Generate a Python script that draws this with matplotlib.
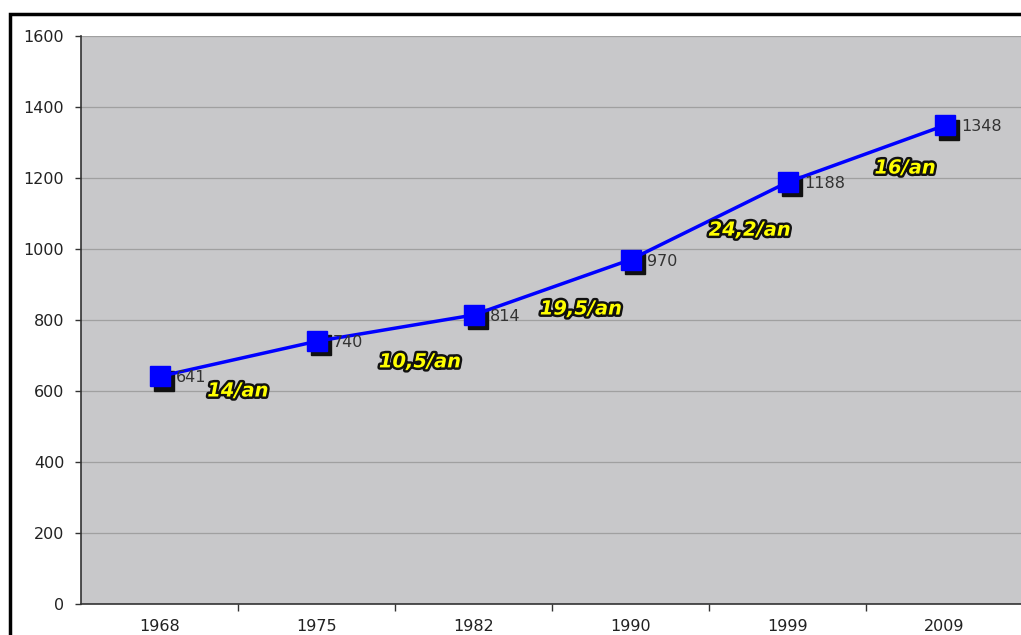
import matplotlib.pyplot as plt
import matplotlib.patheffects as pe
from matplotlib.lines import Line2D
from matplotlib.transforms import offset_copy

# data
years = ["1968", "1975", "1982", "1990", "1999", "2009"]
values = [641, 740, 814, 970, 1188, 1348]
rates = ["14/an", "10,5/an", "19,5/an", "24,2/an", "16/an"]
rate_x = [0.5, 1.66, 2.685, 3.76, 4.75]
rate_y = [600, 682, 831, 1053, 1228]

fig = plt.figure(figsize=(10.21, 6.35), dpi=100)
fig.patch.set_facecolor('white')
ax = fig.add_axes([81 / 1021, 31 / 635, 942 / 1021, 568 / 635])
ax.set_facecolor('#c8c8ca')

# outer frame (cropped at right and bottom)
fx = 9.5 / 1021
fy = 1 - 14 / 635
fig.add_artist(Line2D([fx, fx, 1.0], [0, fy, fy], transform=fig.transFigure,
                      color='black', lw=2.5, solid_joinstyle='miter'))

x = list(range(len(years)))

# horizontal grid
ax.set_ylim(0, 1600)
ax.set_yticks(range(0, 1601, 200))
ax.yaxis.grid(True, color='#a0a0a0', lw=0.9)
ax.set_axisbelow(True)

ax.set_xlim(-0.5, len(years) - 0.5)
ax.set_xticks([i + 0.5 for i in range(len(years) - 1)])
ax.set_xticklabels([])
ax.set_xticks(x, minor=True)
ax.set_xticklabels(years, minor=True)
ax.tick_params(axis='x', which='major', length=5, width=1, color='#333333')
ax.tick_params(axis='x', which='minor', length=0, pad=11, labelsize=11.5, labelcolor='#222222')
ax.tick_params(axis='y', length=4, width=1, color='#333333', pad=8, labelsize=11.5, labelcolor='#222222')

for s in ['top', 'right']:
    ax.spines[s].set_visible(False)
for s in ['left', 'bottom']:
    ax.spines[s].set_color('#333333')
    ax.spines[s].set_linewidth(1.2)

# shadow markers, line, markers
shadow = offset_copy(ax.transData, fig=fig, x=3, y=-3, units='points')
ax.plot(x, values, ls='none', marker='s', ms=15, color='#111111', transform=shadow,
        zorder=3, clip_on=False)
ax.plot(x, values, color='#0000ff', lw=2.5, zorder=4)
ax.plot(x, values, ls='none', marker='s', ms=15, color='#0000ff', zorder=5, clip_on=False)

for xi, v in zip(x, values):
    ax.annotate(str(v), (xi, v), xytext=(12, -1), textcoords='offset points',
                ha='left', va='center', fontsize=11.5, color='#333333', zorder=6)

for t, rx, ry in zip(rates, rate_x, rate_y):
    ax.text(rx, ry, t, ha='center', va='center', fontsize=14, fontweight='bold',
            fontstyle='italic', color='#ffff00', zorder=6,
            path_effects=[pe.withStroke(linewidth=3.5, foreground='#111111')])

fig.savefig('out.png', dpi=100)
